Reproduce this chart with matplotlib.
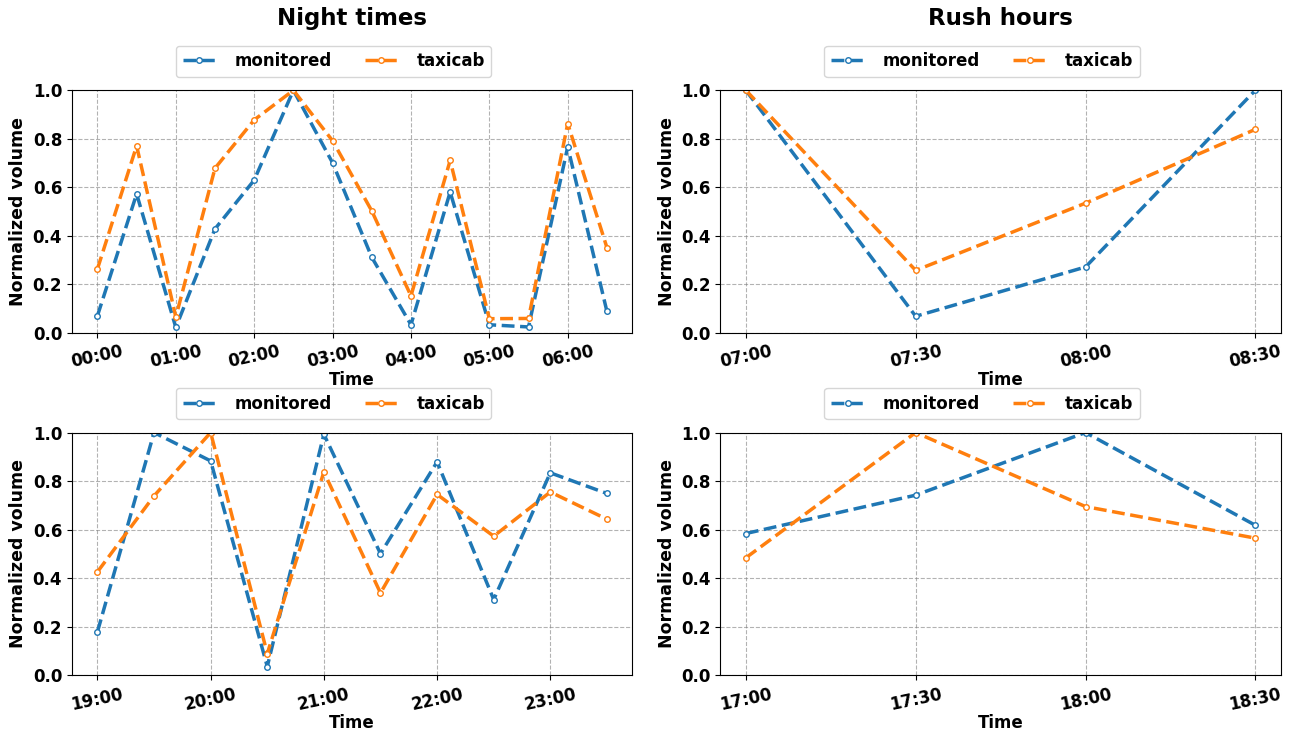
import numpy as np
import matplotlib.pyplot as plt

plt.rcParams['font.family'] = ['DejaVu Sans']
plt.rcParams['font.weight'] = 'bold'

# 夜間 00:00 - 06:30
am_times = ['00:00', '00:30', '01:00', '01:30', '02:00', '02:30', '03:00',
            '03:30', '04:00', '04:30', '05:00', '05:30', '06:00', '06:30']
am_monitored = [0.071, 0.573, 0.023, 0.429, 0.630, 1.0, 0.701,
                0.312, 0.034, 0.581, 0.034, 0.025, 0.767, 0.089]
am_taxicab = [0.264, 0.771, 0.066, 0.679, 0.878, 1.0, 0.792,
              0.503, 0.153, 0.711, 0.059, 0.060, 0.863, 0.352]

# 夜間 19:00 - 23:30
pm_times = ['19:00', '19:30', '20:00', '20:30', '21:00',
            '21:30', '22:00', '22:30', '23:00', '23:30']
pm_monitored = [0.179, 1.0, 0.883, 0.036, 0.993, 0.501, 0.879, 0.312, 0.834, 0.749]
pm_taxicab = [0.426, 0.739, 1.0, 0.089, 0.838, 0.339, 0.745, 0.573, 0.755, 0.643]

# 尖峰 早上
morning_times = ['07:00', '07:30', '08:00', '08:30']
morning_monitored = [1.0, 0.069, 0.272, 1.0]
morning_taxicab = [1.0, 0.258, 0.535, 0.839]

# 尖峰 傍晚
evening_times = ['17:00', '17:30', '18:00', '18:30']
evening_monitored = [0.584, 0.742, 1.0, 0.618]
evening_taxicab = [0.484, 1.0, 0.695, 0.565]


def draw(ax, times, mon, taxi, step):
    x = np.arange(len(times))
    ax.plot(x, mon, linestyle='--', marker='o', color='#1f77b4', lw=2.5,
            ms=4, mfc='white', mew=1, label='monitored')
    ax.plot(x, taxi, linestyle='--', marker='o', color='#ff7f0e', lw=2.5,
            ms=4, mfc='white', mew=1, label='taxicab')
    ax.set_xticks(x[::step])
    ax.set_xticklabels(times[::step], rotation=12, fontsize=12, fontweight='bold')
    ax.set_ylim(0, 1)
    ax.set_yticks([0, 0.2, 0.4, 0.6, 0.8, 1.0])
    ax.set_yticklabels(['0.0', '0.2', '0.4', '0.6', '0.8', '1.0'], fontsize=12, fontweight='bold')
    ax.grid(True, linestyle='--', color='gray', alpha=0.6, lw=0.8)
    ax.set_xlabel('Time', fontsize=12, fontweight='bold', labelpad=0)
    ax.set_ylabel('Normalized volume', fontsize=12.5, fontweight='bold')
    ax.legend(loc='lower center', bbox_to_anchor=(0.467, 1.055), ncol=2,
              borderaxespad=0, columnspacing=2.0, handletextpad=1.1,
              prop={'family': 'DejaVu Sans', 'weight': 'bold', 'size': 12})


fig, axes = plt.subplots(2, 2, figsize=(12.99, 7.34), dpi=100)
fig.subplots_adjust(left=0.0554, right=0.986, top=0.877, bottom=0.08,
                    wspace=0.157, hspace=0.41)

draw(axes[0, 0], am_times, am_monitored, am_taxicab, 2)
draw(axes[1, 0], pm_times, pm_monitored, pm_taxicab, 2)
draw(axes[0, 1], morning_times, morning_monitored, morning_taxicab, 1)
draw(axes[1, 1], evening_times, evening_monitored, evening_taxicab, 1)

axes[0, 0].set_title('Night times', fontsize=16.5, fontweight='bold', pad=47)
axes[0, 1].set_title('Rush hours', fontsize=16.5, fontweight='bold', pad=47)

plt.savefig('out.png', dpi=100)
